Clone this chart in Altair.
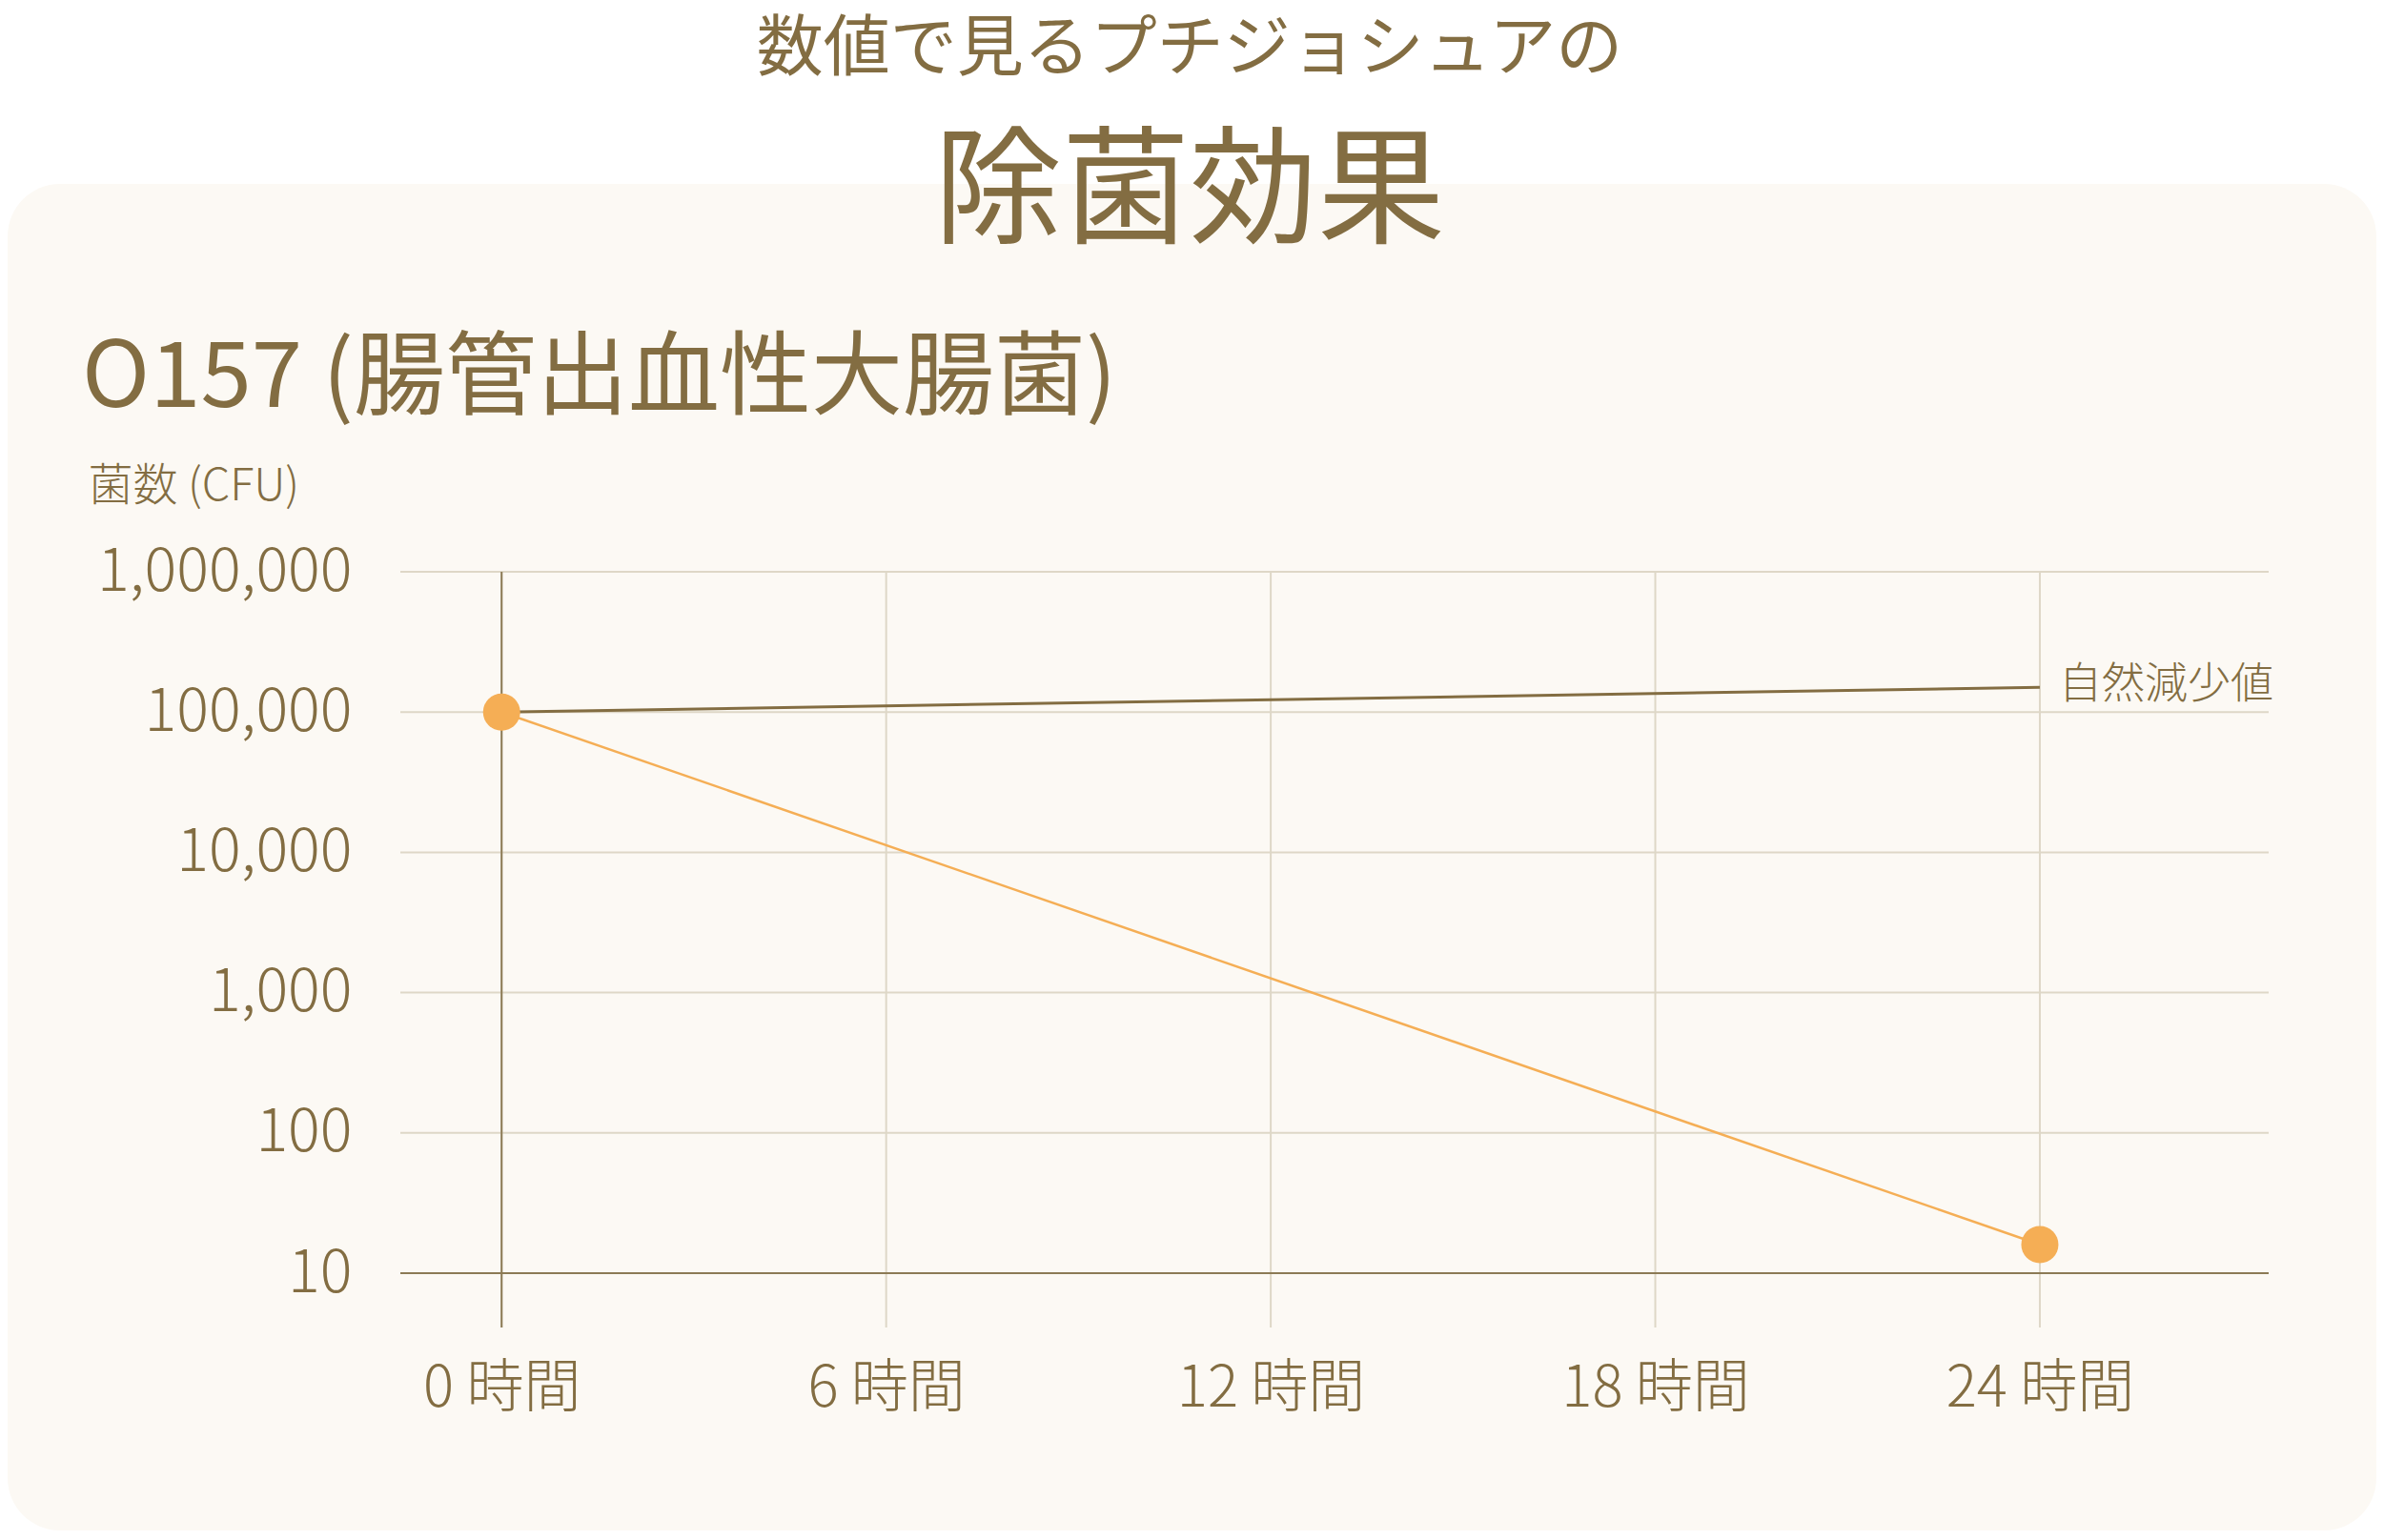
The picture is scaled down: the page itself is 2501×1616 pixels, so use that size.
import altair as alt
import pandas as pd

# ---- data ----
hours = [0, 24]
treated = [100000, 16]          # プチジョシュア
natural = [100000, 150000]      # 自然減少値
x_ticks = [0, 6, 12, 18, 24]
y_ticks = [10, 100, 1000, 10000, 100000, 1000000]
heading_small = "数値で見るプチジョシュアの"
heading_big = "除菌効果"
subtitle = "O157 (腸管出血性大腸菌)"
y_title = "菌数 (CFU)"
natural_label = "自然減少値"

BROWN = "#836D42"
ORANGE = "#F5AE55"
PANEL = "#FCF9F4"
GRID = "#DED7C7"
AXIS = "#8C7A55"
FONT = "Noto Sans CJK JP"

W, H = 1960, 793
PL, PT = 412, 592
TOTAL_W, TOTAL_H = 2485, 1600

xscale = alt.Scale(domain=[-1.58, 27.57], nice=False, zero=False)
yscale = alt.Scale(type="log", domain=[4.1, 1000000], nice=False)

xaxis = alt.Axis(values=x_ticks, labelExpr="datum.value + ' 時間'", labelFont=FONT,
                 labelFontSize=60, labelFontWeight=300, labelColor=BROWN, labelPadding=64,
                 labelBaseline="middle", ticks=False, tickSize=0, domain=False, grid=False,
                 title=None, zindex=1, labelOverlap=False, labelLimit=600)
yaxis = alt.Axis(values=y_ticks, format=",", labelFont=FONT, labelFontSize=63,
                 labelFontWeight=300, labelColor=BROWN, labelPadding=51, ticks=False,
                 tickSize=0, domain=False, grid=False, zindex=1, labelOverlap=False,
                 labelLimit=600,
                 title=y_title, titleAngle=0, titleAlign="left", titleBaseline="middle",
                 titleX=84 - PL, titleY=502 - PT, titleFont=FONT, titleFontSize=47,
                 titleFontWeight=300, titleColor=BROWN, titleLimit=600)

df = pd.DataFrame({
    "hour": hours + hours,
    "cfu": treated + natural,
    "series": ["treated"] * len(hours) + ["natural"] * len(hours),
})
df_treated = df[df.series == "treated"]
df_natural = df[df.series == "natural"]
df_xt = pd.DataFrame({"hour": x_ticks})
df_yt = pd.DataFrame({"cfu": y_ticks})

panel = alt.Chart(pd.DataFrame({"k": [0]})).mark_rect(
    fill=PANEL, cornerRadius=55).encode(
    x=alt.value(-PL), x2=alt.value(TOTAL_W - PL),
    y=alt.value(185 - PT), y2=alt.value(TOTAL_H - 2 - PT))

vgrid = alt.Chart(df_xt).mark_rule(color=GRID, strokeWidth=2).encode(
    x=alt.X("hour:Q", scale=xscale, axis=xaxis))
hgrid = alt.Chart(df_yt).mark_rule(color=GRID, strokeWidth=2).encode(
    y=alt.Y("cfu:Q", scale=yscale, axis=yaxis))
vzero = alt.Chart(df_xt[df_xt.hour == 0]).mark_rule(color=AXIS, strokeWidth=2).encode(
    x=alt.X("hour:Q", scale=xscale, axis=xaxis))
hzero = alt.Chart(df_yt[df_yt.cfu == 10]).mark_rule(color=AXIS, strokeWidth=2).encode(
    y=alt.Y("cfu:Q", scale=yscale, axis=yaxis))

nat_line = alt.Chart(df_natural).mark_line(color=BROWN, strokeWidth=3).encode(
    x=alt.X("hour:Q", scale=xscale, axis=xaxis),
    y=alt.Y("cfu:Q", scale=yscale, axis=yaxis))
tr_line = alt.Chart(df_treated).mark_line(color=ORANGE, strokeWidth=2.5).encode(
    x=alt.X("hour:Q", scale=xscale, axis=xaxis),
    y=alt.Y("cfu:Q", scale=yscale, axis=yaxis))
tr_pts = alt.Chart(df_treated).mark_circle(color=ORANGE, size=1520, opacity=1).encode(
    x=alt.X("hour:Q", scale=xscale, axis=xaxis),
    y=alt.Y("cfu:Q", scale=yscale, axis=yaxis))

nat_text = alt.Chart(df_natural.assign(label=natural_label).tail(1)).mark_text(
    font=FONT, fontSize=45, fontWeight=300, color=BROWN, align="left",
    baseline="middle", dx=20, dy=-2).encode(
    x=alt.X("hour:Q", scale=xscale, axis=xaxis),
    y=alt.Y("cfu:Q", scale=yscale, axis=yaxis),
    text="label:N")

t1 = alt.Chart(pd.DataFrame({"t": [heading_small]})).mark_text(
    font=FONT, fontSize=70, color=BROWN, align="center", baseline="middle").encode(
    x=alt.value(1240 - PL), y=alt.value(45 - PT), text="t:N")
t2 = alt.Chart(pd.DataFrame({"t": [heading_big]})).mark_text(
    font=FONT, fontSize=134, color=BROWN, align="center", baseline="middle").encode(
    x=alt.value(1240 - PL), y=alt.value(197 - PT), text="t:N")
t3 = alt.Chart(pd.DataFrame({"t": [subtitle]})).mark_text(
    font=FONT, fontSize=96, color=BROWN, align="left", baseline="middle").encode(
    x=alt.value(78 - PL), y=alt.value(390 - PT), text="t:N")

chart = alt.layer(
    panel, vgrid, hgrid, vzero, hzero, nat_line, tr_line, tr_pts, nat_text, t1, t2, t3
).properties(
    width=W, height=H,
    padding={"left": PL, "top": PT, "right": TOTAL_W - PL - W, "bottom": TOTAL_H - PT - H},
    autosize=alt.AutoSizeParams(type="none"),
).configure(background="white").configure_view(stroke=None)

chart.save("out.html", embed_options={"renderer": "svg", "actions": False})
